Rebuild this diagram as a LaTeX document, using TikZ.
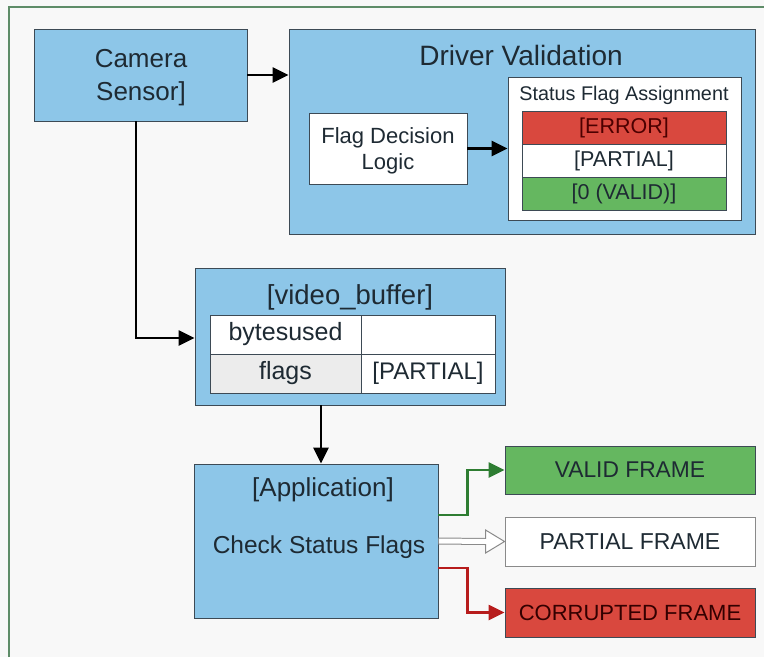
\documentclass[tikz,border=0pt]{standalone}
\usepackage{fontspec}
\setmainfont{Liberation Sans}
\usetikzlibrary{arrows.meta}

\definecolor{bgc}{HTML}{F8F8F8}
\definecolor{framec}{HTML}{5E8C68}
\definecolor{bluefill}{HTML}{8DC6E8}
\definecolor{edgec}{HTML}{3D4A55}
\definecolor{txt}{HTML}{1E2A33}
\definecolor{redfill}{HTML}{D9483E}
\definecolor{greenfill}{HTML}{65B760}
\definecolor{greyfill}{HTML}{ECECEC}
\definecolor{garrow}{HTML}{2E7D32}
\definecolor{rarrow}{HTML}{B71C1C}
\definecolor{pedge}{HTML}{8A8A8A}

\tikzset{
  fs/.style={font=\fontsize{#1}{#1}\selectfont},
  box/.style={draw=edgec, line width=0.9pt, inner sep=0pt, text=txt, align=center},
  bluebox/.style={box, fill=bluefill},
  whitebox/.style={box, fill=white},
  lbl/.style={inner sep=0pt, text=txt, align=center},
  tip/.style={-{Triangle[length=16pt,width=15pt]}},
  arr/.style={draw=black, line width=2.5pt, tip},
  garr/.style={draw=garrow, line width=2.5pt, tip},
  rarr/.style={draw=rarrow, line width=2.5pt, tip},
}

\begin{document}
\begin{tikzpicture}[x=1pt, y=-1pt]
  \useasboundingbox (0,0) rectangle (764,657);
  \fill[bgc] (0,0) rectangle (764,657);
  % outer frame (top and left edges visible)
  \draw[framec, line width=1.2pt] (9,657) -- (9,7) -- (764,7);

  % camera sensor
  \node[bluebox, minimum width=213pt, minimum height=92pt] (cam) at (140.5,75) {};
  \node[lbl, fs=26] (camt) at (141,78) {Camera\\[7pt]Sensor]};

  % driver validation block
  \node[bluebox, minimum width=466pt, minimum height=205pt] (drv) at (522,131.5) {};
  \node[lbl, fs=28] (drvt) at (521,55) {Driver Validation};
  \node[whitebox, minimum width=158pt, minimum height=71pt] (fdl) at (388,148.5) {};
  \node[lbl, fs=22] (fdlt) at (388,150.5) {Flag Decision\\[4pt]Logic};
  \node[whitebox, minimum width=233pt, minimum height=143pt] (sfa) at (624.5,148.5) {};
  \node[lbl, fs=19.8] (sfat) at (624,95) {Status Flag Assignment};
  \node[box, fill=redfill, text=red!30!black, minimum width=204pt, minimum height=33pt, fs=21.5] (ferr) at (624,127.5) {[ERROR]};
  \node[box, fill=white, minimum width=204pt, minimum height=33pt, fs=21.5] (fpar) at (624,160.5) {[PARTIAL]};
  \node[box, fill=greenfill, minimum width=204pt, minimum height=33pt, fs=21.5] (fval) at (624,193.5) {[0 (VALID)]};

  % video buffer
  \node[bluebox, minimum width=310pt, minimum height=137pt] (vb) at (350,336.5) {};
  \node[lbl, fs=27.5] (vbt) at (350,297) {[video\_buffer]};
  \node[whitebox, minimum width=151pt, minimum height=39pt, fs=25] (c11) at (285.5,334.5) {bytesused};
  \node[whitebox, minimum width=134pt, minimum height=39pt] (c12) at (428,334.5) {};
  \node[box, fill=greyfill, minimum width=151pt, minimum height=39pt, fs=25] (c21) at (285.5,373.5) {flags};
  \node[whitebox, minimum width=134pt, minimum height=39pt, fs=24] (c22) at (428,373.5) {[PARTIAL]};

  % application
  \node[bluebox, minimum width=244pt, minimum height=154pt] (app) at (316,541) {};
  \node[lbl, fs=26] (appt) at (323,490) {[Application]};
  \node[lbl, fs=24.5] (appc) at (319,547) {Check Status Flags};

  % outcomes
  \node[box, fill=greenfill, minimum width=250pt, minimum height=48pt, fs=22.8] (valid) at (630,470) {VALID FRAME};
  \node[box, draw=pedge, fill=white, minimum width=250pt, minimum height=49pt, fs=23] (part) at (630,541.5) {PARTIAL FRAME};
  \node[box, fill=redfill, text=red!20!black, minimum width=250pt, minimum height=49pt, fs=22] (corr) at (630,612.5) {CORRUPTED FRAME};

  % connectors
  \draw[arr] (cam.east) -- (cam.east -| drv.west);
  \draw[arr] (fdl.east) -- (fdl.east -| sfa.west);
  \draw[arr] ([xshift=-4.5pt]cam.south) |- ([yshift=-1.5pt]vb.west);
  \draw[arr] ([xshift=-29pt]vb.south) -- ([xshift=-29pt]vb.south |- app.north);
  \draw[garr] ([yshift=26pt]app.east) -- ++(29,0) |- (valid.west);
  \draw[rarr] ([yshift=-27pt]app.east) -- ++(29,0) |- (corr.west);

  % hollow double arrow to the partial frame
  \coordinate (ptip) at (part.west);
  \coordinate (pbase) at ([xshift=-19pt]part.west);
  \draw[pedge, line width=7pt] (app.east) -- (pbase);
  \draw[white, line width=5pt] ([xshift=0.5pt]app.east) -- ([xshift=1pt]pbase);
  \draw[pedge, fill=white, line width=1pt, line join=miter]
    ([yshift=11.5pt]pbase) -- (ptip) -- ([yshift=-11.5pt]pbase) -- cycle;
  \fill[white] ([xshift=-1.5pt,yshift=2.5pt]pbase) rectangle ([xshift=1pt,yshift=-2.5pt]pbase);
\end{tikzpicture}
\end{document}
